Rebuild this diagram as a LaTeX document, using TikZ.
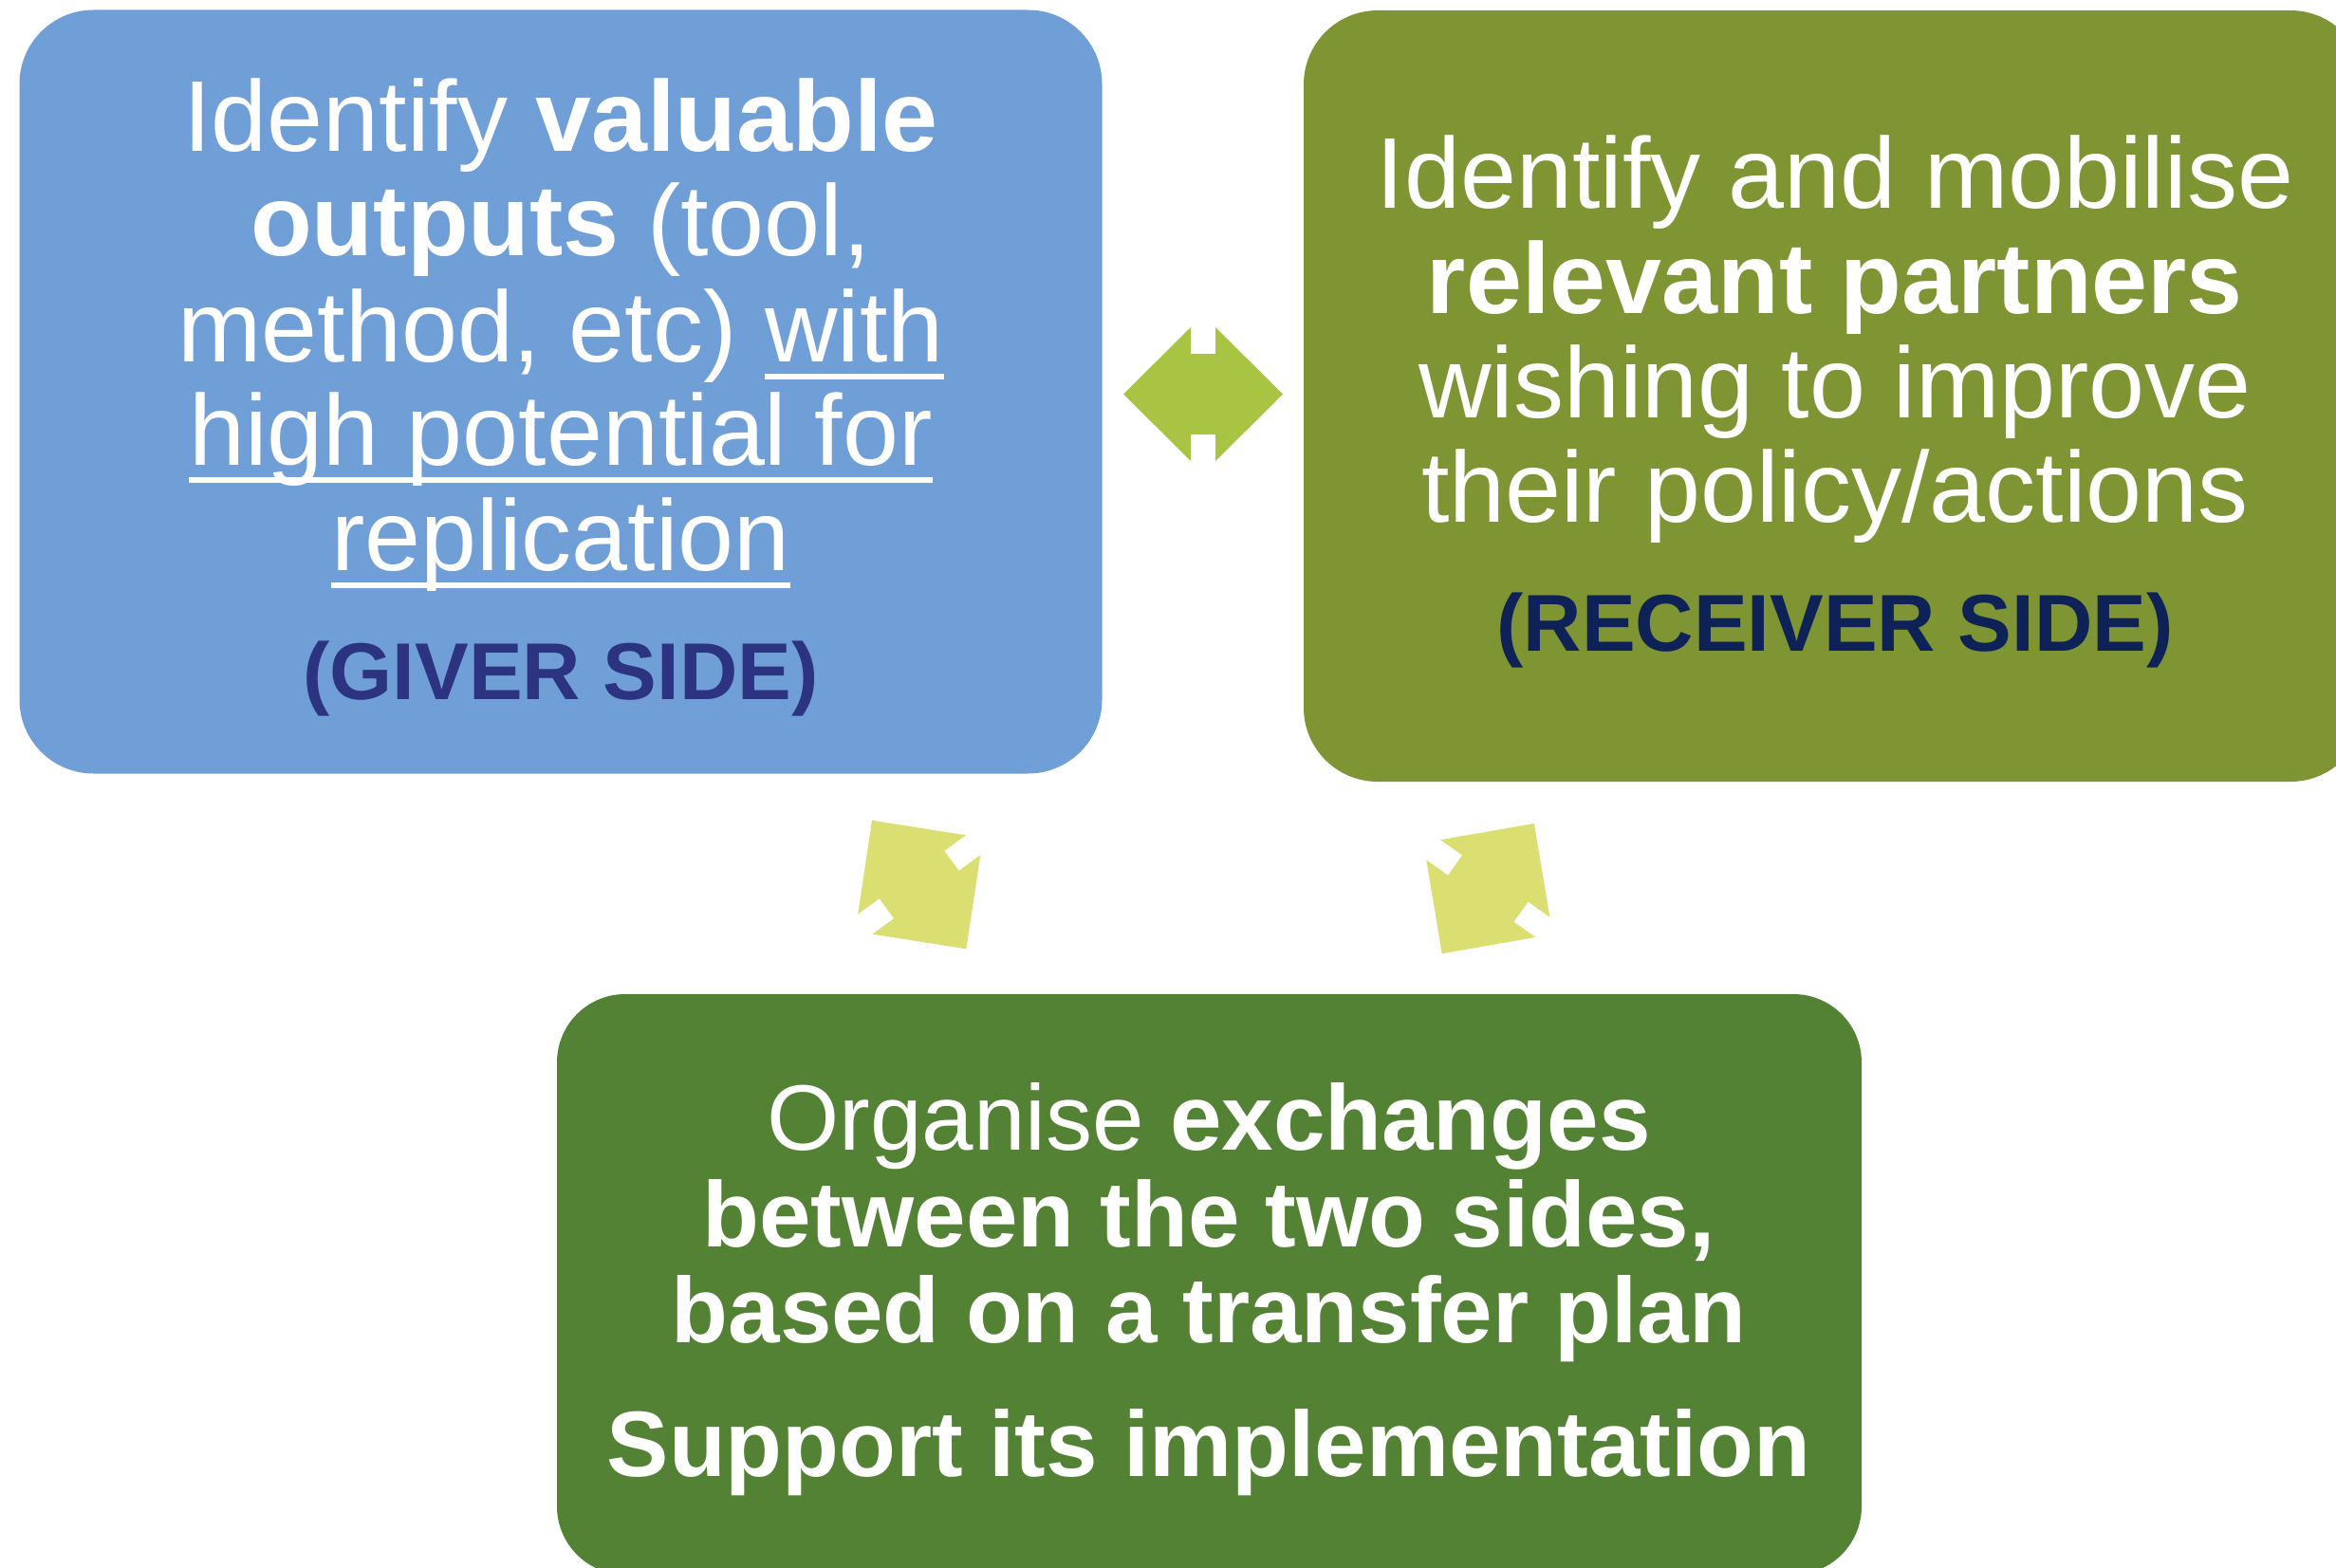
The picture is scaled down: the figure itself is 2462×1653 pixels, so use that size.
\documentclass[tikz,border=0pt]{standalone}
\usepackage{fontspec}
\setmainfont{Liberation Sans}
\definecolor{giverfill}{HTML}{709FD8}
\definecolor{receiverfill}{HTML}{7F9433}
\definecolor{exchangefill}{HTML}{548235}
\definecolor{arrowmid}{HTML}{A9C443}
\definecolor{arrowlow}{HTML}{DBDE71}
\definecolor{giverlabel}{HTML}{2C3380}
\definecolor{receiverlabel}{HTML}{0F2257}
\newcommand\myul[1]{\leavevmode\setbox0=\hbox{#1}\rlap{\rule[-19pt]{\wd0}{6pt}}\box0}
\tikzset{
  box/.style={rectangle, rounded corners=78pt, draw=none, inner sep=0pt},
  bigtext/.style={anchor=base, inner sep=0pt, text=white, font=\fontsize{106}{110}\selectfont},
  lowtext/.style={anchor=base, inner sep=0pt, text=white, font=\fontsize{98}{102}\selectfont},
  sidelabel/.style={anchor=base, inner sep=0pt, font=\fontsize{85}{90}\selectfont\bfseries},
  dblarrow/.pic={\fill[pic actions] (-84,0) -- (-13,-70.5) -- (-13,-42.5) -- (13,-42.5) -- (13,-70.5) -- (84,0) -- (13,70.5) -- (13,42.5) -- (-13,42.5) -- (-13,70.5) -- cycle;}
}
\begin{document}
\begin{tikzpicture}[x=1pt,y=-1pt]
\path[use as bounding box, fill=white] (0,0) rectangle (2462,1653);
\begin{scope}
\clip (0,0) rectangle (2462,1653);
% boxes
\node[box, fill=giverfill, minimum width=1141pt, minimum height=805pt] (giver) at (591,413) {};
\node[box, fill=receiverfill, minimum width=1118pt, minimum height=813pt] (receiver) at (1933,417.5) {};
\node[box, fill=exchangefill, minimum width=1375pt, minimum height=612pt, rounded corners=72pt] (exchange) at (1274.5,1354) {};
% giver text
\node[bigtext] (g1) at (591,160) {Identify \textbf{valuable}};
\node[bigtext] (g2) at (591,270) {\textbf{outputs} (tool,};
\node[bigtext] (g3) at (591,381) {method, etc) \myul{with}};
\node[bigtext] (g4) at (591,490) {\myul{high potential for}};
\node[bigtext] (g5) at (591,601) {\myul{replication}};
\node[sidelabel, text=giverlabel] (g6) at (591,737) {(GIVER SIDE)};
% receiver text
\node[bigtext] (r1) at (1934,220) {Identify and mobilise};
\node[bigtext] (r2) at (1934,330) {\textbf{relevant partners}};
\node[bigtext] (r3) at (1934,440) {wishing to improve};
\node[bigtext] (r4) at (1934,550) {their policy/actions};
\node[sidelabel, text=receiverlabel] (r5) at (1934,686) {(RECEIVER SIDE)};
% exchange text
\node[lowtext] (e1) at (1274,1212) {Organise \textbf{exchanges}};
\node[lowtext] (e2) at (1274,1314) {\textbf{between the two sides,}};
\node[lowtext] (e3) at (1274,1415) {\textbf{based on a transfer plan}};
\node[lowtext] (e4) at (1274,1556) {\textbf{Support its implementation}};
% arrows
\pic[fill=arrowmid] at (1268,415.5) {dblarrow};
\pic[fill=arrowlow, rotate=-53.75] at (968.7,932.6) {dblarrow};
\pic[fill=arrowlow, rotate=54.7] at (1568.3,936.7) {dblarrow};
\end{scope}
\end{tikzpicture}
\end{document}
